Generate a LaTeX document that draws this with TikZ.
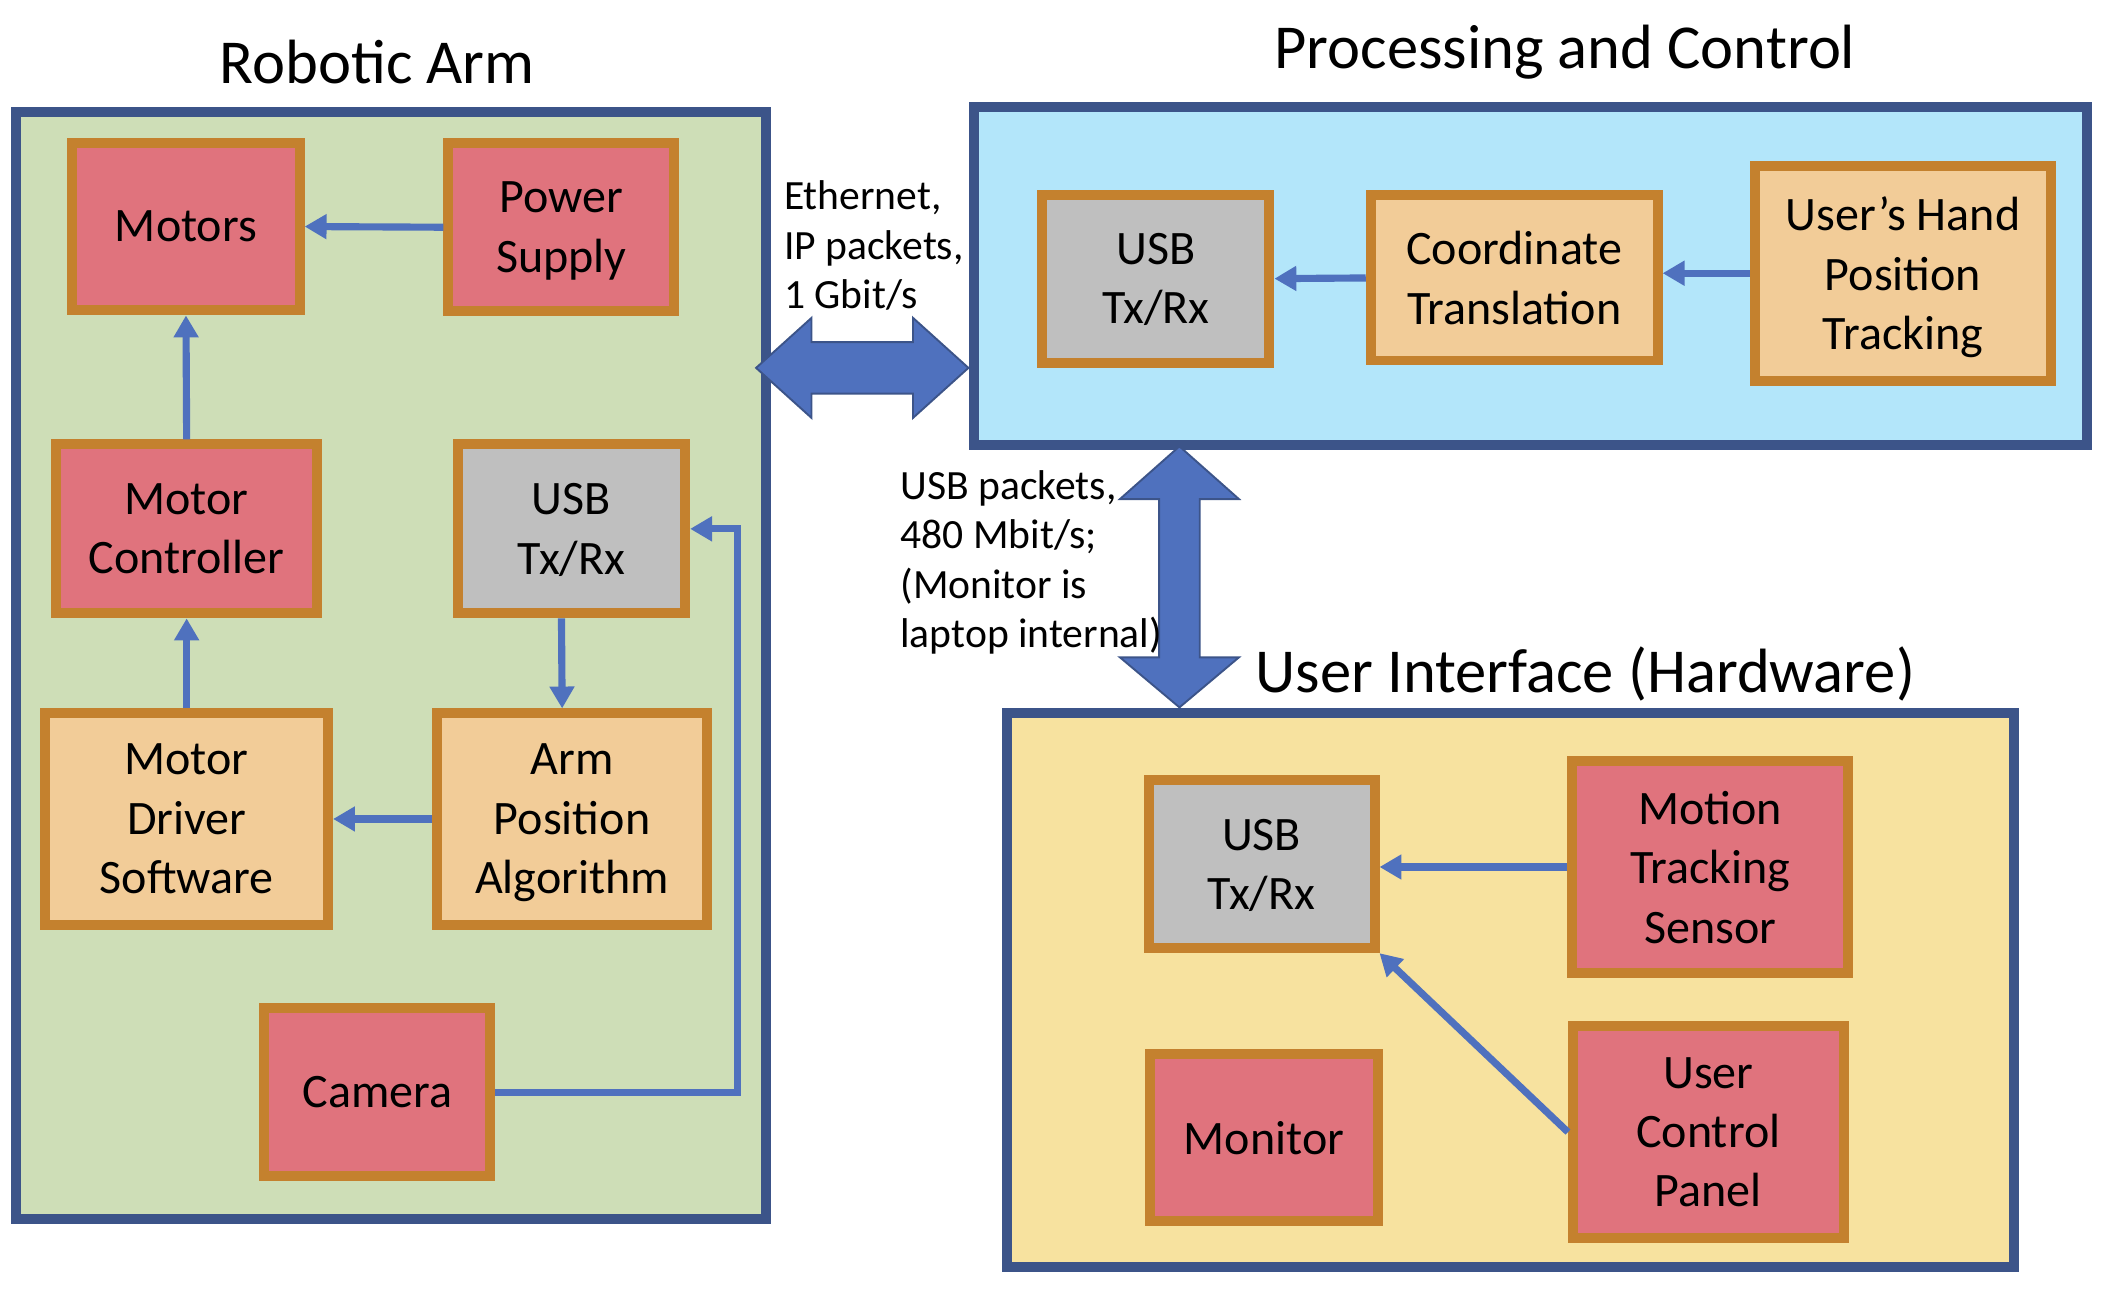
\documentclass[tikz,border=0pt]{standalone}
\usepackage{fontspec}
\setmainfont{Carlito}
\usetikzlibrary{arrows.meta, calc}

\definecolor{panelline}{HTML}{3C5489}
\definecolor{flowblue}{HTML}{4F71BE}
\definecolor{blkline}{HTML}{C4812E}
\definecolor{hwred}{HTML}{E0737D}
\definecolor{usbgrey}{HTML}{BFBFBF}
\definecolor{swtan}{HTML}{F2CC98}
\definecolor{armgreen}{HTML}{CEDEB7}
\definecolor{proccyan}{HTML}{B3E6FA}
\definecolor{uiyellow}{HTML}{F7E29F}

\begin{document}
\begin{tikzpicture}[x=0.01cm, y=-0.01cm,
    panel/.style={draw=panelline, line width=2.1pt},
    blk/.style={draw=blkline, line width=2.1pt, inner sep=0pt, align=center,
        font=\fontsize{10.1}{12.5}\selectfont, text depth=-1.2pt},
    hw/.style={blk, fill=hwred},
    usb/.style={blk, fill=usbgrey},
    sw/.style={blk, fill=swtan},
    flow/.style={draw=flowblue, line width=1.5pt, -{Triangle[length=4.6pt,width=5pt]}},
    bigarrow/.style={draw=panelline, line width=0.4pt, fill=flowblue},
    paneltitle/.style={font=\fontsize{13.15}{15}\selectfont, anchor=base},
    linklabel/.style={font=\fontsize{8.75}{10.4}\selectfont, align=left, anchor=north west, inner sep=0pt}]
    \useasboundingbox (0,0) rectangle (1560,970);

    % panels
    \draw[panel, fill=armgreen] (11.75,82.75) rectangle (566.25,901.25);
    \draw[panel, fill=proccyan] (719.75,78.75) rectangle (1543.25,329.25);
    \draw[panel, fill=uiyellow] (744.5,527.4) rectangle (1488.7,936.7);

    \node[paneltitle] (armtitle) at (279,62) {Robotic Arm};
    \node[paneltitle] (proctitle) at (1157,51) {Processing and Control};
    \node[paneltitle] (uititle) at (1172,512) {User Interface (Hardware)};

    % robotic arm
    \node[hw, minimum width=1.68cm, minimum height=1.24cm] (motors) at (137.5,167.5) {Motors};
    \node[hw, minimum width=1.67cm, minimum height=1.24cm] (power) at (415,168) {Power\\Supply};
    \node[hw, minimum width=1.93cm, minimum height=1.25cm] (motorctrl) at (138,391) {Motor\\Controller};
    \node[usb, minimum width=1.68cm, minimum height=1.25cm] (armusb) at (422.5,391) {USB\\Tx/Rx};
    \node[sw, minimum width=2.09cm, minimum height=1.56cm] (driver) at (138,605.5) {Motor\\Driver\\Software};
    \node[sw, minimum width=1.99cm, minimum height=1.56cm] (armpos) at (423,605.5) {Arm\\Position\\Algorithm};
    \node[hw, minimum width=1.67cm, minimum height=1.24cm] (camera) at (279,807.5) {Camera};

    % processing and control
    \node[usb, minimum width=1.68cm, minimum height=1.24cm] (procusb) at (854.5,206) {USB\\Tx/Rx};
    \node[sw, minimum width=2.12cm, minimum height=1.22cm] (coord) at (1119.5,205.5) {Coordinate\\Translation};
    \node[sw, minimum width=2.19cm, minimum height=1.59cm] (hand) at (1407,202) {User’s Hand\\Position\\Tracking};

    % user interface
    \node[usb, minimum width=1.67cm, minimum height=1.24cm] (uiusb) at (932.7,639) {USB\\Tx/Rx};
    \node[hw, minimum width=2.04cm, minimum height=1.57cm] (motion) at (1264.5,641) {Motion\\Tracking\\Sensor};
    \node[hw, minimum width=1.68cm, minimum height=1.24cm] (monitor) at (934.5,841) {Monitor};
    \node[hw, minimum width=2.00cm, minimum height=1.57cm] (ctrlpanel) at (1263,837) {User\\Control\\Panel};

    \draw[flow] (power.west) -- (motors.east);
    \draw[flow] (motorctrl.north) -- (motors.south);
    \draw[flow] (driver.north) -- (motorctrl.south);
    \draw[flow] ([xshift=-2.1pt]armusb.south) -- ([xshift=-2.1pt]armpos.north);
    \draw[flow] (armpos.west) -- (driver.east);
    \coordinate (camturn) at (545,807.5);
    \draw[flow] (camera.east) -- (camturn) |- (armusb.east);
    \draw[flow] (coord.west) -- (procusb.east);
    \draw[flow] (hand.west) -- (hand.west -| coord.east);
    \draw[flow] (motion.west) -- (motion.west -| uiusb.east);
    \draw[flow] (ctrlpanel.west) -- (uiusb.south east);

    % links between panels
    \coordinate (ethleft) at (559,272);
    \coordinate (ethright) at (716,272);
    \draw[bigarrow] (ethleft) -- ++(41,-37) -- ++(0,18) -- ++(75,0) -- ++(0,-18) -- (ethright)
        -- ++(-41,37) -- ++(0,-18) -- ++(-75,0) -- ++(0,18) -- cycle;
    \coordinate (usbtop) at (872,330);
    \coordinate (usbbottom) at (872,523);
    \draw[bigarrow] (usbtop) -- ++(44,39) -- ++(-29,0) -- ++(0,117) -- ++(29,0) -- (usbbottom)
        -- ++(-44,-37) -- ++(29,0) -- ++(0,-117) -- ++(-29,0) -- cycle;

    \node[linklabel] (ethnote) at (579,133) {Ethernet,\\IP packets,\\1 Gbit/s};
    \node[linklabel] (usbnote) at (665,347) {USB packets,\\480 Mbit/s;\\(Monitor is\\laptop internal)};
\end{tikzpicture}
\end{document}
